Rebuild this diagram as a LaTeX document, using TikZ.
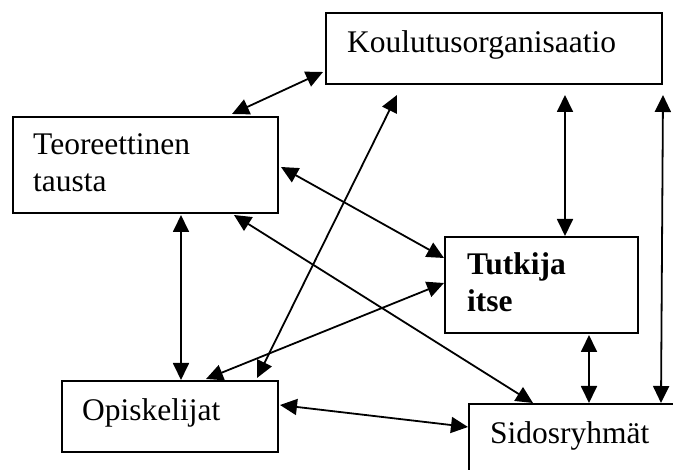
\documentclass[tikz,border=0pt]{standalone}
\usepackage{fontspec}
\setmainfont{Liberation Serif}
\usetikzlibrary{arrows.meta,calc}

\begin{document}
\begin{tikzpicture}[
    x=1pt, y=-1pt,
    box/.style={draw=black, line width=2pt, rectangle, anchor=north west, inner sep=0pt},
    caption/.style={anchor=base west, inner sep=0pt, align=left,
                    font=\fontsize{31.5}{37}\selectfont},
    link/.style={line width=1.8pt, {Triangle[length=17pt,width=16pt]}-{Triangle[length=17pt,width=16pt]}}
  ]
  \useasboundingbox (0,0) rectangle (673,470);
  \clip (0,0) rectangle (673,470);

  % boxes
  \node[box, minimum width=336pt, minimum height=71pt] (k) at (325,12) {};
  \node[box, minimum width=265pt, minimum height=96pt] (t) at (12,116) {};
  \node[box, minimum width=193pt, minimum height=96pt] (u) at (444,236) {};
  \node[box, minimum width=216pt, minimum height=71pt] (o) at (61,380) {};
  \node[box, minimum width=260pt, minimum height=100pt] (s) at (468,403) {};

  % captions (base anchor of a two-line caption sits on its last line)
  \node[caption] (kt) at (347,53) {Koulutusorganisaatio};
  \node[caption] (tt) at (33,192) {Teoreettinen\\tausta};
  \node[caption, font=\fontsize{31.5}{37}\selectfont\bfseries] (ut) at (467,312) {Tutkija\\itse};
  \node[caption] (ot) at (82,421) {Opiskelijat};
  \node[caption] (st) at (490,444) {Sidosryhmät};

  % two-way connectors
  \draw[link] ($(k.south west)+(-2,-13)$) -- ($(t.north west)+(220,-2)$);
  \draw[link] ($(k.south west)+(72,10)$) -- ($(o.north west)+(196,-2)$);
  \draw[link] ($(t.north east)+(2,51)$) -- ($(u.north west)+(0,22)$);
  \draw[link] ($(u.north west)+(0,47)$) -- ($(o.north west)+(145,-1)$);
  \draw[link] ($(t.south west)+(222,1)$) -- ($(s.north west)+(65,0)$);
  \draw[link] ($(t.south west)+(169,1)$) -- ($(o.north west)+(120,0)$);
  \draw[link] ($(k.south west)+(240,10)$) -- ($(u.north west)+(121,0)$);
  \draw[link] ($(k.south east)+(0,10)$) -- ($(s.north west)+(193,0)$);
  \draw[link] ($(u.south west)+(145,1)$) -- ($(s.north west)+(121,0)$);
  \draw[link] ($(o.north east)+(1,25)$) -- ($(s.north west)+(0,24)$);
\end{tikzpicture}
\end{document}
